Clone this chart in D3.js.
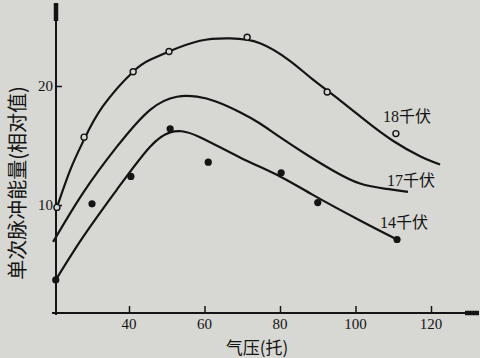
<!DOCTYPE html>
<html><head><meta charset="utf-8">
<script src="https://cdn.jsdelivr.net/npm/d3@7"></script>
<style>
html,body{margin:0;padding:0;background:#d7d7d3;}
svg{display:block;}
</style></head>
<body>
<svg id="c" width="480" height="358"></svg>
<script>
// ---- data ----
const xTicks = [40, 60, 80, 100, 120];
const yTicks = [10, 20];
const seriesNames = ["18千伏", "17千伏", "14千伏"];
// fitted curves: [气压, 能量]
const curve18 = [[20.9,9.8],[24.5,13.0],[28.1,15.5],[33.1,18.3],[41.1,21.2],[45.6,22.2],[50.6,22.9],[58.8,23.8],[66.8,24.0],[74.7,23.6],[82.7,22.1],[88.5,20.6],[95.9,18.8],[103.0,17.0],[109.9,15.4],[117.1,14.1],[122.4,13.4]];
const curve17 = [[19.9,6.9],[27.8,11.0],[36.8,14.9],[45.6,18.0],[52.7,19.1],[58.0,19.1],[63.0,18.7],[69.4,17.8],[74.7,16.85],[80.0,15.7],[87.2,14.2],[94.0,12.9],[101.2,11.8],[108.3,11.35],[113.9,11.1]];
const curve14 = [[20.4,3.6],[27.8,7.3],[36.8,11.3],[45.6,14.9],[50.9,16.1],[54.0,16.2],[58.8,15.7],[69.4,14.0],[80.0,12.4],[88.7,10.85],[101.2,8.7],[111,7.1]];
// measured points
const open18 = [[20.9,9.8],[28.1,15.7],[41.1,21.2],[50.6,22.9],[71.3,24.1],[92.5,19.5],[110.7,16.0]];
const filled14 = [[20.6,3.7],[30.2,10.1],[40.5,12.4],[50.9,16.4],[61,13.6],[80.3,12.7],[90,10.2],[111,7.1]];
const xTitle = "气压(托)";
const yTitle = "单次脉冲能量(相对值)";

// ---- drawing ----
const svg = d3.select("#c");
const x = d3.scaleLinear().domain([40,120]).range([129,431]);
const y = d3.scaleLinear().domain([10,20]).range([205,86]);
const font = "'Liberation Serif','DejaVu Serif','Noto Sans CJK SC',serif";
const cjk = "'Noto Sans CJK SC','Liberation Serif',serif";
const ink = "#141414";

const axisY0 = 313, axisX0 = 56;

// x axis
const xAxis = svg.append("g").attr("transform",`translate(0,${axisY0})`)
  .call(d3.axisTop(x).tickValues(xTicks).tickSize(7).tickFormat(""));
xAxis.select(".domain").remove();
xAxis.selectAll("line").attr("stroke",ink).attr("stroke-width",1.5);
svg.append("line").attr("x1",52).attr("x2",478).attr("y1",axisY0).attr("y2",axisY0)
  .attr("stroke",ink).attr("stroke-width",2);
svg.append("line").attr("x1",465).attr("x2",479).attr("y1",axisY0).attr("y2",axisY0)
  .attr("stroke",ink).attr("stroke-width",4.5);
svg.append("g").selectAll("text").data(xTicks).join("text")
  .attr("x",d=>x(d)).attr("y",axisY0+16).attr("text-anchor","middle")
  .attr("font-family",font).attr("font-size",15).attr("fill",ink).text(d=>d);

// y axis
const yAxis = svg.append("g").attr("transform",`translate(${axisX0},0)`)
  .call(d3.axisRight(y).tickValues(yTicks).tickSize(6).tickFormat(""));
yAxis.select(".domain").remove();
yAxis.selectAll("line").attr("stroke",ink).attr("stroke-width",1.5);
svg.append("line").attr("x1",axisX0).attr("x2",axisX0).attr("y1",axisY0+2).attr("y2",4)
  .attr("stroke",ink).attr("stroke-width",2);
svg.append("line").attr("x1",axisX0).attr("x2",axisX0).attr("y1",21).attr("y2",3)
  .attr("stroke",ink).attr("stroke-width",4.5);
svg.append("g").selectAll("text").data(yTicks).join("text")
  .attr("x",axisX0-3).attr("y",d=>y(d)+5).attr("text-anchor","end")
  .attr("font-family",font).attr("font-size",15).attr("fill",ink).text(d=>d);

// titles
svg.append("text").attr("x",257).attr("y",354).attr("text-anchor","middle")
  .attr("font-family",cjk).attr("font-size",17).attr("fill",ink).text(xTitle);
svg.append("text").attr("transform","translate(25,183) rotate(-90)").attr("text-anchor","middle")
  .attr("font-family",cjk).attr("font-size",20).attr("fill",ink).text(yTitle);

// curves
const line = d3.line().x(d=>x(d[0])).y(d=>y(d[1])).curve(d3.curveNatural);
[curve18, curve17, curve14].forEach(c=>{
  svg.append("path").attr("d",line(c)).attr("fill","none").attr("stroke",ink).attr("stroke-width",2.2);
});

// points
svg.append("g").selectAll("circle").data(open18).join("circle")
  .attr("cx",d=>x(d[0])).attr("cy",d=>y(d[1])).attr("r",3)
  .attr("fill","#d7d7d3").attr("stroke",ink).attr("stroke-width",1.4);
svg.append("g").selectAll("circle").data(filled14).join("circle")
  .attr("cx",d=>x(d[0])).attr("cy",d=>y(d[1])).attr("r",3.6).attr("fill",ink);

// series labels
const labelPos = [[407,122],[411,186],[404,228]];
svg.append("g").selectAll("text").data(seriesNames).join("text")
  .attr("x",(d,i)=>labelPos[i][0]).attr("y",(d,i)=>labelPos[i][1]).attr("text-anchor","middle")
  .attr("font-family",font).attr("font-size",16).attr("fill",ink).text(d=>d);
</script>
</body></html>
